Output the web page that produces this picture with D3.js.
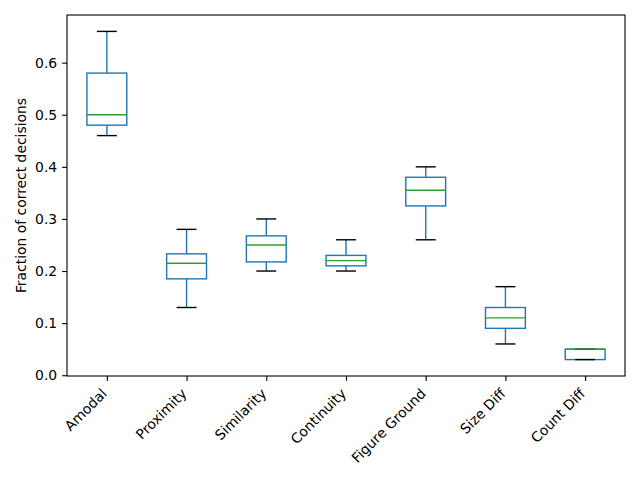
<!DOCTYPE html>
<meta charset="utf-8">
<script src="https://d3js.org/d3.v7.min.js"></script>
<style>
  body { margin: 0; background: #fff; }
  text { font-family: "DejaVu Sans", sans-serif; }
</style>
<svg id="chart" width="640" height="480"></svg>
<script>

// categories and box statistics
const categories = ["Amodal", "Proximity", "Similarity", "Continuity", "Figure Ground", "Size Diff", "Count Diff"];
const whiskerLow  = [0.46, 0.13,  0.20,   0.20, 0.26,  0.06, 0.03];
const q1          = [0.48, 0.185, 0.2175, 0.21, 0.325, 0.09, 0.03];
const median      = [0.50, 0.215, 0.25,   0.22, 0.355, 0.11, 0.05];
const q3          = [0.58, 0.233, 0.2675, 0.23, 0.38,  0.13, 0.05];
const whiskerHigh = [0.66, 0.28,  0.30,   0.26, 0.40,  0.17, 0.05];
const yTicks = [0.0, 0.1, 0.2, 0.3, 0.4, 0.5, 0.6];

const boxes = categories.map((c, i) => ({
  name: c, pos: i + 1,
  lo: whiskerLow[i], q1: q1[i], med: median[i], q3: q3[i], hi: whiskerHigh[i]
}));

const svg = d3.select("#chart");
const mLeft = 67, mRight = 625, mTop = 15, mBottom = 376;

// matplotlib style 5% margins
const yMin = d3.min(whiskerLow), yMax = d3.max(whiskerHigh);
const pad = (yMax - yMin) * 0.05;
const y = d3.scaleLinear().domain([yMin - pad, yMax + pad]).range([mBottom, mTop]);
const x = d3.scaleLinear().domain([0.5, categories.length + 0.5]).range([mLeft, mRight]);

const blue = "#1f77b4", green = "#2ca02c";
const lw = 1.4;
const capHalf = 0.125, boxHalf = 0.25;

const g = svg.append("g");
const bg = g.selectAll("g.box").data(boxes).join("g").attr("class", "box");

// box
bg.append("rect")
  .attr("x", d => x(d.pos - boxHalf))
  .attr("width", d => x(d.pos + boxHalf) - x(d.pos - boxHalf))
  .attr("y", d => y(d.q3))
  .attr("height", d => y(d.q1) - y(d.q3))
  .attr("fill", "none").attr("stroke", blue).attr("stroke-width", lw);

// whiskers
bg.append("line")
  .attr("x1", d => x(d.pos)).attr("x2", d => x(d.pos))
  .attr("y1", d => y(d.q3)).attr("y2", d => y(d.hi))
  .attr("stroke", blue).attr("stroke-width", lw);
bg.append("line")
  .attr("x1", d => x(d.pos)).attr("x2", d => x(d.pos))
  .attr("y1", d => y(d.q1)).attr("y2", d => y(d.lo))
  .attr("stroke", blue).attr("stroke-width", lw);

// caps
["lo", "hi"].forEach(k => {
  bg.append("line")
    .attr("x1", d => x(d.pos - capHalf)).attr("x2", d => x(d.pos + capHalf))
    .attr("y1", d => y(d[k])).attr("y2", d => y(d[k]))
    .attr("stroke", "black").attr("stroke-width", lw);
});

// median
bg.append("line")
  .attr("x1", d => x(d.pos - boxHalf)).attr("x2", d => x(d.pos + boxHalf))
  .attr("y1", d => y(d.med)).attr("y2", d => y(d.med))
  .attr("stroke", green).attr("stroke-width", lw);

// y axis
const yAxis = svg.append("g")
  .attr("transform", `translate(${mLeft},0)`)
  .call(d3.axisLeft(y).tickValues(yTicks).tickFormat(d3.format(".1f")).tickSize(4.9).tickPadding(4.9));
yAxis.select(".domain").remove();
yAxis.selectAll("line").attr("stroke-width", 1.1);
yAxis.selectAll("text").style("font-size", "13.9px").style("font-family", "DejaVu Sans").attr("fill", "black");

// x axis
const xAxis = svg.append("g")
  .attr("transform", `translate(0,${mBottom})`)
  .call(d3.axisBottom(x).tickValues(boxes.map(d => d.pos)).tickFormat((d, i) => categories[i]).tickSize(4.9));
xAxis.select(".domain").remove();
xAxis.selectAll("line").attr("stroke-width", 1.1);
xAxis.selectAll("text")
  .style("font-size", "13.9px").style("font-family", "DejaVu Sans").attr("fill", "black")
  .attr("text-anchor", "end")
  .attr("y", 0).attr("dy", "0.76em")
  .attr("transform", "translate(-7,11) rotate(-45)");

// frame
svg.append("rect")
  .attr("x", mLeft).attr("y", mTop)
  .attr("width", mRight - mLeft).attr("height", mBottom - mTop)
  .attr("fill", "none").attr("stroke", "black").attr("stroke-width", 1.1);

// y label
svg.append("text")
  .attr("transform", `translate(26,${(mTop + mBottom) / 2}) rotate(-90)`)
  .attr("text-anchor", "middle")
  .style("font-size", "13.9px")
  .text("Fraction of correct decisions");

</script>
